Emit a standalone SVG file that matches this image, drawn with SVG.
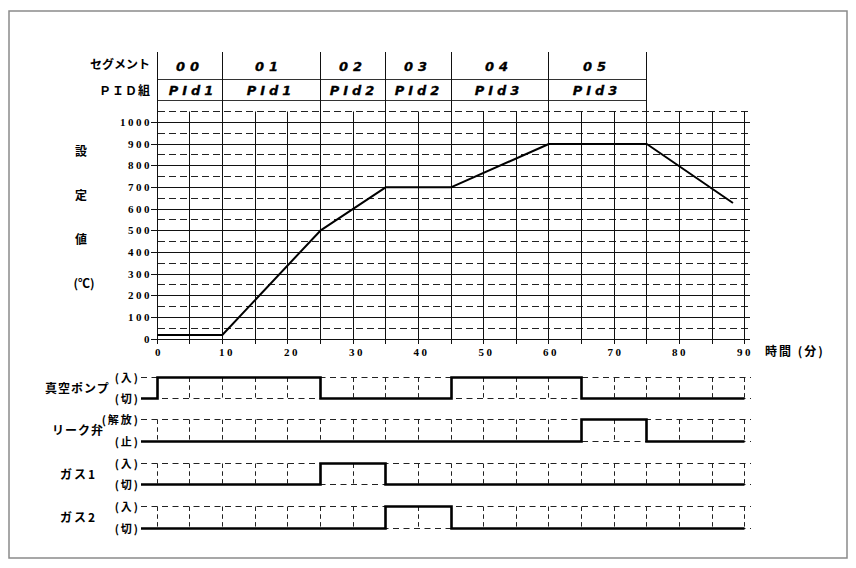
<svg xmlns="http://www.w3.org/2000/svg" width="856" height="568" viewBox="0 0 856 568">
<style>
.bg{fill:#fff}
.frame{fill:none;stroke:#8a8a8a;stroke-width:1.5}
.g{stroke:#111;stroke-width:1;fill:none}
.gd{stroke:#222;stroke-width:1;fill:none;stroke-dasharray:7 4}
.tb{stroke:#333;stroke-width:1;fill:none}
.prof{stroke:#000;stroke-width:2;fill:none;stroke-linejoin:round}
.sig{stroke:#000;stroke-width:2.6;fill:none;stroke-linejoin:miter}
.sh{stroke:#222;stroke-width:1;fill:none;stroke-dasharray:6 4.5}
.sv{stroke:#222;stroke-width:1;fill:none;stroke-dasharray:4.5 3.3}
.jp{font-family:"Noto Sans CJK JP","Noto Sans",sans-serif;font-weight:bold;font-size:12px;fill:#000}
.lv{font-family:"Noto Sans CJK JP","Noto Sans",sans-serif;font-weight:bold;font-size:11px;fill:#000;letter-spacing:2px;text-anchor:end}
.num{font-family:"Liberation Serif","DejaVu Serif",serif;font-weight:bold;font-size:11px;fill:#000;letter-spacing:2.5px}
.seg{font-family:"DejaVu Sans","Liberation Sans",sans-serif;font-weight:bold;font-style:italic;font-size:13px;fill:#000;text-anchor:middle;stroke:#000;stroke-width:0.3}
</style>
<rect class="bg" x="0" y="0" width="856" height="568"/>
<rect class="frame" x="9" y="11" width="838" height="547"/>

<g id="table">
<path class="tb" d="M157 79.5H646.5M157 100.5H646.5"/>
<text class="jp" x="150" y="69" text-anchor="end">セグメント</text>
<text class="jp" x="151" y="95" text-anchor="end" letter-spacing="1">ＰＩＤ組</text>
<g class="seg" letter-spacing="5">
<text x="190" y="71">00</text>
<text x="269" y="71">01</text>
<text x="353" y="71">02</text>
<text x="418" y="71">03</text>
<text x="499" y="71">04</text>
<text x="597" y="71">05</text>
</g>
<g class="seg" letter-spacing="4">
<text x="193" y="95">PId1</text>
<text x="271" y="95">PId1</text>
<text x="354" y="95">PId2</text>
<text x="419" y="95">PId2</text>
<text x="499" y="95">PId3</text>
<text x="597" y="95">PId3</text>
</g>
</g>

<g id="grid">
<path class="g" d="M157 339.5H750M157 317.5H750M157 295.5H750M157 274.5H750M157 252.5H750M157 230.5H750M157 209.5H750M157 187.5H750M157 165.5H750M157 144.5H750M157 122.5H750"/>
<path class="gd" d="M158 328.5H750M158 306.5H750M158 284.5H750M158 263.5H750M158 241.5H750M158 219.5H750M158 198.5H750M158 176.5H750M158 154.5H750M158 133.5H750M158 111.5H750"/>
<path class="g" d="M157.5 52V339.5M222.5 52V339.5M320.5 52V339.5M385.5 52V339.5M451.5 52V339.5M548.5 52V339.5M646.5 52V339.5"/>
<path class="g" d="M189.5 111.5V339.5M255.5 111.5V339.5M287.5 111.5V339.5M353.5 111.5V339.5M418.5 111.5V339.5M483.5 111.5V339.5M516.5 111.5V339.5M581.5 111.5V339.5M614.5 111.5V339.5M679.5 111.5V339.5M712.5 111.5V339.5M744.5 111.5V339.5"/>
<path class="g" d="M157.5 339V344M189.5 339V344M222.5 339V344M255.5 339V344M287.5 339V344M320.5 339V344M353.5 339V344M385.5 339V344M418.5 339V344M451.5 339V344M483.5 339V344M516.5 339V344M548.5 339V344M581.5 339V344M614.5 339V344M646.5 339V344M679.5 339V344M712.5 339V344M744.5 339V344"/>
<path class="g" d="M151 339.5H157M151 317.5H157M151 295.5H157M151 274.5H157M151 252.5H157M151 230.5H157M151 209.5H157M151 187.5H157M151 165.5H157M151 144.5H157M151 122.5H157"/>
</g>

<g id="y-labels" class="num" text-anchor="end">
<text x="152" y="126">1000</text>
<text x="152" y="148">900</text>
<text x="152" y="169">800</text>
<text x="152" y="191">700</text>
<text x="152" y="213">600</text>
<text x="152" y="234">500</text>
<text x="152" y="256">400</text>
<text x="152" y="278">300</text>
<text x="152" y="299">200</text>
<text x="152" y="321">100</text>
<text x="152" y="343">0</text>
</g>

<g id="x-labels" class="num" text-anchor="middle">
<text x="159" y="356">0</text>
<text x="227" y="356">10</text>
<text x="292" y="356">20</text>
<text x="357" y="356">30</text>
<text x="421.5" y="356">40</text>
<text x="486.5" y="356">50</text>
<text x="551" y="356">60</text>
<text x="615.5" y="356">70</text>
<text x="680" y="356">80</text>
<text x="745" y="356">90</text>
</g>

<g id="axis-titles" class="jp">
<text x="81" y="156" text-anchor="middle">設</text>
<text x="81" y="200" text-anchor="middle">定</text>
<text x="81" y="244" text-anchor="middle">値</text>
<text x="84" y="288" text-anchor="middle">(℃)</text>
<text x="765" y="356" letter-spacing="2">時間 (分)</text>
</g>

<g id="profile">
<path class="prof" d="M157 335L222.3 335L320.3 230.7L385.6 187.3L450.9 187.3L548.8 144L646.8 144L733 203"/>
</g>

<g id="signal-grid">
<path class="sh" d="M141 377.5H751M141 398.5H751M141 419.5H751M141 441.5H751M141 463.5H751M141 484.5H751M141 506.5H751M141 528.5H751"/>
<path class="sv" d="M157.5 377.5V398.5M189.5 377.5V398.5M222.5 377.5V398.5M255.5 377.5V398.5M287.5 377.5V398.5M320.5 377.5V398.5M353.5 377.5V398.5M385.5 377.5V398.5M418.5 377.5V398.5M451.5 377.5V398.5M483.5 377.5V398.5M516.5 377.5V398.5M548.5 377.5V398.5M581.5 377.5V398.5M614.5 377.5V398.5M646.5 377.5V398.5M679.5 377.5V398.5M712.5 377.5V398.5M744.5 377.5V398.5"/>
<path class="sv" d="M157.5 419.5V441.5M189.5 419.5V441.5M222.5 419.5V441.5M255.5 419.5V441.5M287.5 419.5V441.5M320.5 419.5V441.5M353.5 419.5V441.5M385.5 419.5V441.5M418.5 419.5V441.5M451.5 419.5V441.5M483.5 419.5V441.5M516.5 419.5V441.5M548.5 419.5V441.5M581.5 419.5V441.5M614.5 419.5V441.5M646.5 419.5V441.5M679.5 419.5V441.5M712.5 419.5V441.5M744.5 419.5V441.5"/>
<path class="sv" d="M157.5 463.5V484.5M189.5 463.5V484.5M222.5 463.5V484.5M255.5 463.5V484.5M287.5 463.5V484.5M320.5 463.5V484.5M353.5 463.5V484.5M385.5 463.5V484.5M418.5 463.5V484.5M451.5 463.5V484.5M483.5 463.5V484.5M516.5 463.5V484.5M548.5 463.5V484.5M581.5 463.5V484.5M614.5 463.5V484.5M646.5 463.5V484.5M679.5 463.5V484.5M712.5 463.5V484.5M744.5 463.5V484.5"/>
<path class="sv" d="M157.5 506.5V528.5M189.5 506.5V528.5M222.5 506.5V528.5M255.5 506.5V528.5M287.5 506.5V528.5M320.5 506.5V528.5M353.5 506.5V528.5M385.5 506.5V528.5M418.5 506.5V528.5M451.5 506.5V528.5M483.5 506.5V528.5M516.5 506.5V528.5M548.5 506.5V528.5M581.5 506.5V528.5M614.5 506.5V528.5M646.5 506.5V528.5M679.5 506.5V528.5M712.5 506.5V528.5M744.5 506.5V528.5"/>
</g>

<g id="pump">
<text class="jp" x="45" y="393" letter-spacing="1">真空ポンプ</text>
<text class="lv" x="140" y="382">(入)</text>
<text class="lv" x="140" y="403">(切)</text>
<path class="sig" d="M141 398.5H157.5V377.5H320.5V398.5H451.5V377.5H581.5V398.5H744.5"/>
</g>
<g id="leak-valve">
<text class="jp" x="52" y="435" letter-spacing="1">リーク弁</text>
<text class="lv" x="140" y="424">(解放)</text>
<text class="lv" x="140" y="446">(止)</text>
<path class="sig" d="M141 441.5H581.5V419.5H646.5V441.5H744.5"/>
</g>
<g id="gas1">
<text class="jp" x="60" y="479" letter-spacing="2">ガス1</text>
<text class="lv" x="140" y="468">(入)</text>
<text class="lv" x="140" y="489">(切)</text>
<path class="sig" d="M141 484.5H320.5V463.5H385.5V484.5H744.5"/>
</g>
<g id="gas2">
<text class="jp" x="60" y="522" letter-spacing="2">ガス2</text>
<text class="lv" x="140" y="511">(入)</text>
<text class="lv" x="140" y="533">(切)</text>
<path class="sig" d="M141 528.5H385.5V506.5H451.5V528.5H744.5"/>
</g>
</svg>
